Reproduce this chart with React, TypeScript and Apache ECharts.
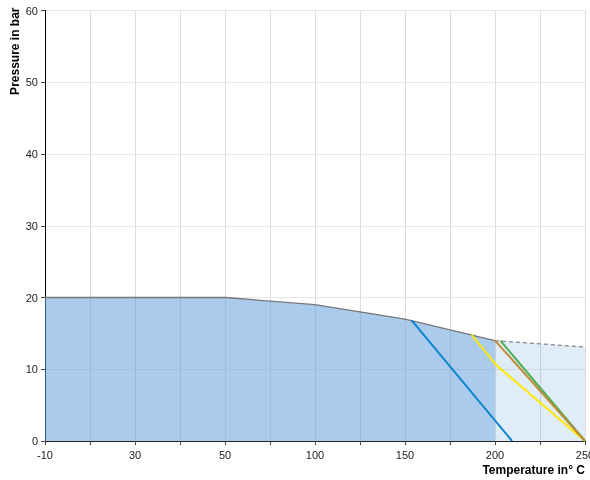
import React, { useEffect, useRef } from "react";
import * as echarts from "echarts";

// Labelled temperature ticks (equally spaced on the axis, every second grid step)
const xLabels = [-10, 30, 50, 100, 150, 200, 250];
const yTicks = [0, 10, 20, 30, 40, 50, 60];

// Permitted operating envelope (temperature °C, pressure bar)
const envelopeT = [-10, 50, 100, 150, 200];
const envelopeP = [20, 20, 19.0, 17.0, 14.0];

// Extended (dashed) range
const extT = [200, 250];
const extP = [14.0, 13.1];

// Individual lines
const blueT = [153.7, 209.5];
const blueP = [16.8, 0];
const yellowT = [187, 200.6, 250];
const yellowP = [14.8, 10.6, 0];
const orangeT = [200, 250];
const orangeP = [14.0, 0];
const greenT = [203, 250];
const greenP = [14.0, 0];

// Axis scale: piecewise linear between labelled ticks
function toPos(t: number): number {
  for (let i = 0; i < xLabels.length - 1; i++) {
    if (t <= xLabels[i + 1] || i === xLabels.length - 2) {
      return 2 * i + (2 * (t - xLabels[i])) / (xLabels[i + 1] - xLabels[i]);
    }
  }
  return 0;
}

function pts(ts: number[], ps: number[]) {
  return ts.map((t, i) => [toPos(t), ps[i]]);
}

export default function App() {
  const ref = useRef<HTMLDivElement>(null);
  useEffect(() => {
    if (!ref.current) return;
    const chart = echarts.init(ref.current, undefined, { renderer: "svg" });
    const font = "'Liberation Sans', Arial, sans-serif";
    const maxPos = 2 * (xLabels.length - 1);
    chart.setOption({
      animation: false,
      textStyle: { fontFamily: font },
      grid: {
        left: 45,
        right: 5,
        top: 10.5,
        bottom: 39,
        containLabel: false,
        outerBoundsMode: "none",
      },
      xAxis: {
        type: "value",
        min: 0,
        max: maxPos,
        interval: 1,
        name: "Temperature in° C",
        nameLocation: "end",
        nameGap: 0,
        nameTextStyle: {
          fontFamily: font,
          fontWeight: "bold",
          fontSize: 12,
          color: "#000",
          align: "right",
          verticalAlign: "top",
          padding: [23, 0, 0, 0],
        },
        axisLine: { show: true, lineStyle: { color: "#222", width: 1 } },
        axisTick: { show: true, length: 4, lineStyle: { color: "#444" } },
        axisLabel: {
          fontFamily: font,
          fontSize: 11,
          color: "#222",
          margin: 8,
          formatter: (v: number) =>
            Math.round(v) % 2 === 0 ? String(xLabels[Math.round(v) / 2]) : "",
        },
        splitLine: { show: true, lineStyle: { color: "#dcdcdc", width: 1 } },
      },
      yAxis: {
        type: "value",
        min: yTicks[0],
        max: yTicks[yTicks.length - 1],
        interval: 10,
        name: "Pressure in bar",
        nameLocation: "end",
        nameRotate: 90,
        nameGap: 3,
        nameTextStyle: {
          fontFamily: font,
          fontWeight: "bold",
          fontSize: 12,
          color: "#000",
          align: "right",
          verticalAlign: "bottom",
          padding: [0, 0, 24, 0],
        },
        axisLine: { show: true, lineStyle: { color: "#000", width: 1 } },
        axisTick: { show: true, length: 4, lineStyle: { color: "#444" } },
        axisLabel: { fontFamily: font, fontSize: 11, color: "#222", margin: 7 },
        splitLine: { show: true, lineStyle: { color: "#e6e6e6", width: 1 } },
      },
      series: [
        {
          type: "line",
          data: pts(extT, extP),
          symbol: "none",
          lineStyle: { color: "#888", width: 1.2, type: [4, 3] },
          areaStyle: { color: "rgba(100,160,220,0.2)", opacity: 1 },
          z: 1,
        },
        {
          type: "line",
          data: pts(envelopeT, envelopeP),
          symbol: "none",
          lineStyle: { color: "#777", width: 1.3 },
          areaStyle: { color: "rgba(100,160,220,0.55)", opacity: 1 },
          z: 2,
        },
        {
          type: "line",
          data: pts(blueT, blueP),
          symbol: "none",
          lineStyle: { color: "#0a84cc", width: 2 },
          z: 3,
        },
        {
          type: "line",
          data: pts(yellowT, yellowP),
          symbol: "none",
          lineStyle: { color: "#ffe800", width: 2 },
          z: 3,
        },
        {
          type: "line",
          data: pts(greenT, greenP),
          symbol: "none",
          lineStyle: { color: "#4caf50", width: 2 },
          z: 3,
        },
        {
          type: "line",
          data: pts(orangeT, orangeP),
          symbol: "none",
          lineStyle: { color: "#c08a38", width: 2 },
          z: 3,
        },
      ],
    });
    return () => chart.dispose();
  }, []);
  return (
    <div
      ref={ref}
      style={{ position: "fixed", left: 0, top: 0, width: 590, height: 480 }}
    />
  );
}
